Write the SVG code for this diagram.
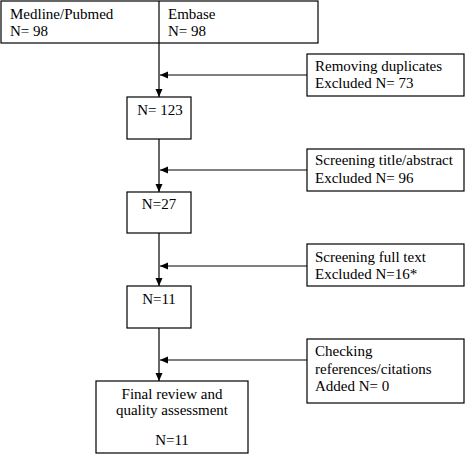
<svg xmlns="http://www.w3.org/2000/svg" width="466" height="456" viewBox="0 0 466 456">
<style>
rect{fill:#fff;stroke:#000;stroke-width:1.2}
text{font-family:"Liberation Serif","Times New Roman",serif;font-size:15px;fill:#000}
.c{text-anchor:middle}
.ln{stroke:#000;stroke-width:1.2;fill:none}
</style>
<defs>
<marker id="ah" viewBox="0 0 8 8" refX="8" refY="4" markerWidth="8" markerHeight="8" markerUnits="userSpaceOnUse" orient="auto">
<path d="M0,0.5 L8,4 L0,7.5 z" fill="#000"/>
</marker>
</defs>
<g id="sources">
<rect x="1" y="1" width="317" height="42"/>
<line class="ln" x1="159" y1="1" x2="159" y2="43"/>
<text x="10" y="19">Medline/Pubmed</text>
<text x="10" y="36">N= 98</text>
<text x="168" y="19">Embase</text>
<text x="168" y="36">N= 98</text>
</g>
<g id="n123">
<rect x="127" y="97" width="64" height="42"/>
<text class="c" x="160" y="115">N= 123</text>
</g>
<g id="n27">
<rect x="127" y="192" width="64" height="41"/>
<text class="c" x="159" y="209">N=27</text>
</g>
<g id="n11">
<rect x="127" y="286" width="64" height="42"/>
<text class="c" x="159" y="304">N=11</text>
</g>
<g id="final">
<rect x="96" y="381" width="152" height="72"/>
<text class="c" x="172" y="399">Final review and</text>
<text class="c" x="172" y="415">quality assessment</text>
<text class="c" x="172" y="445">N=11</text>
</g>
<g id="dup">
<rect x="307" y="54" width="157" height="42"/>
<text x="315" y="71">Removing duplicates</text>
<text x="315" y="88">Excluded N= 73</text>
</g>
<g id="title">
<rect x="307" y="149" width="157" height="42"/>
<text x="315" y="165">Screening title/abstract</text>
<text x="315" y="183">Excluded N= 96</text>
</g>
<g id="fulltext">
<rect x="307" y="244" width="157" height="42"/>
<text x="315" y="262">Screening full text</text>
<text x="315" y="279">Excluded N=16*</text>
</g>
<g id="refs">
<rect x="307" y="339" width="157" height="64"/>
<text x="315" y="356">Checking</text>
<text x="315" y="374">references/citations</text>
<text x="315" y="391">Added N= 0</text>
</g>
<g id="connectors">
<line class="ln" x1="159" y1="43" x2="159" y2="97" marker-end="url(#ah)"/>
<line class="ln" x1="159" y1="139" x2="159" y2="192" marker-end="url(#ah)"/>
<line class="ln" x1="159" y1="233" x2="159" y2="286" marker-end="url(#ah)"/>
<line class="ln" x1="159" y1="328" x2="159" y2="381" marker-end="url(#ah)"/>
<line class="ln" x1="307" y1="75" x2="160" y2="75" marker-end="url(#ah)"/>
<line class="ln" x1="307" y1="170" x2="160" y2="170" marker-end="url(#ah)"/>
<line class="ln" x1="307" y1="266" x2="160" y2="266" marker-end="url(#ah)"/>
<line class="ln" x1="307" y1="360" x2="160" y2="360" marker-end="url(#ah)"/>
</g>
</svg>
